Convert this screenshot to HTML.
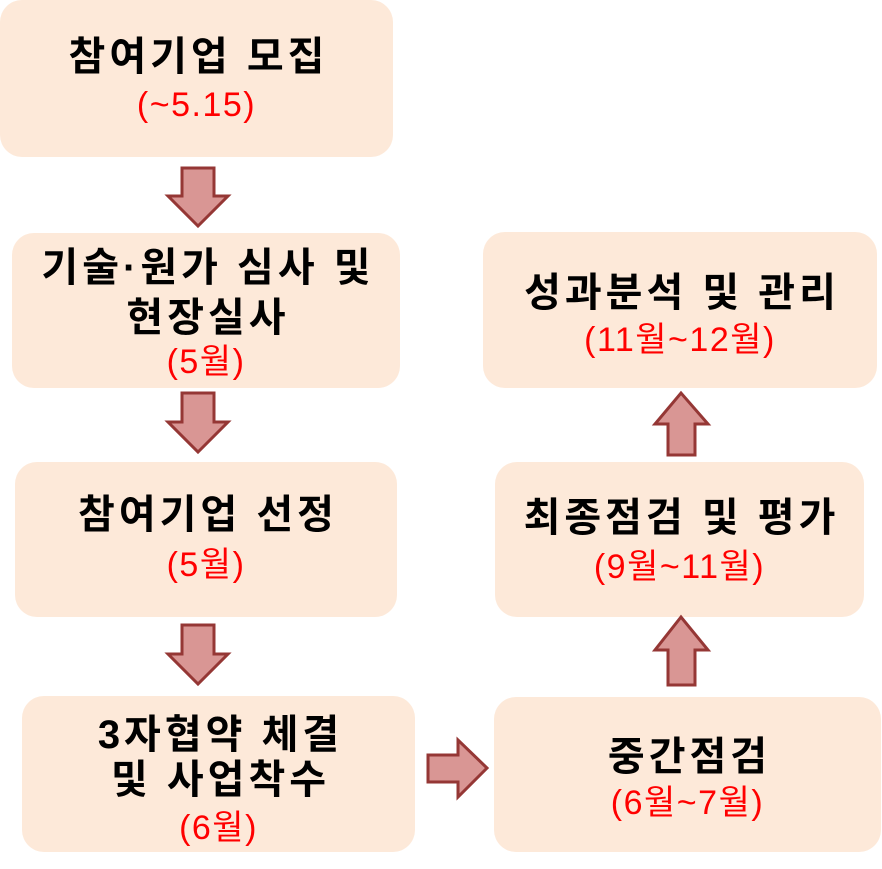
<!DOCTYPE html>
<html><head><meta charset="utf-8"><style>
body{margin:0;width:882px;height:869px;background:#fff;position:relative;overflow:hidden;font-family:"Liberation Sans","Noto Sans CJK KR",sans-serif}
.b{position:absolute;background:#fde9d9;border-radius:22px}
.t{position:absolute;left:0;right:0;text-align:center;font-weight:bold;font-size:40px;letter-spacing:4px;text-indent:4px;color:#000;line-height:1;white-space:nowrap}
.r{position:absolute;left:0;right:0;text-align:center;font-size:34px;letter-spacing:1.5px;color:#ff0000;line-height:1;white-space:nowrap}
svg{position:absolute;left:0;top:0}
</style></head><body>
<div class="b" style="left:0;top:0;width:393px;height:157px"><div class="t" style="top:37px">참여기업 모집</div><div class="r" style="top:88px">(~5.15)</div></div>
<div class="b" style="left:12px;top:233px;width:388px;height:155px"><div class="t" style="top:15px">기술·원가 심사 및</div><div class="t" style="top:65px">현장실사</div><div class="r" style="top:112px">(5월)</div></div>
<div class="b" style="left:15px;top:462px;width:382px;height:155px"><div class="t" style="top:33px">참여기업 선정</div><div class="r" style="top:86px">(5월)</div></div>
<div class="b" style="left:22px;top:696px;width:393px;height:156px"><div class="t" style="top:19px">3자협약 체결</div><div class="t" style="top:64px">및 사업착수</div><div class="r" style="top:115px">(6월)</div></div>
<div class="b" style="left:483px;top:232px;width:394px;height:156px"><div class="t" style="top:41px">성과분석 및 관리</div><div class="r" style="top:91px">(11월~12월)</div></div>
<div class="b" style="left:495px;top:462px;width:369px;height:155px"><div class="t" style="top:36px">최종점검 및 평가</div><div class="r" style="top:88px">(9월~11월)</div></div>
<div class="b" style="left:494px;top:697px;width:387px;height:155px"><div class="t" style="top:40px">중간점검</div><div class="r" style="top:89px">(6월~7월)</div></div>
<svg width="882" height="869"><g fill="#d99694" stroke="#953735" stroke-width="3">
<polygon points="182,168 214,168 214,196 228,196 198,226 168,196 182,196"/>
<polygon points="182,393 214,393 214,422 228,422 198,452 168,422 182,422"/>
<polygon points="182,625 214,625 214,654 228,654 198,684 168,654 182,654"/>
<polygon points="428,755 458,755 458,740 487,768 458,797 458,782 428,782"/>
<polygon points="668,455 695,455 695,424 708,424 681,393 655,424 668,424"/>
<polygon points="668,685 695,685 695,650 708,650 681,617 655,650 668,650"/>
</g></svg>
</body></html>
